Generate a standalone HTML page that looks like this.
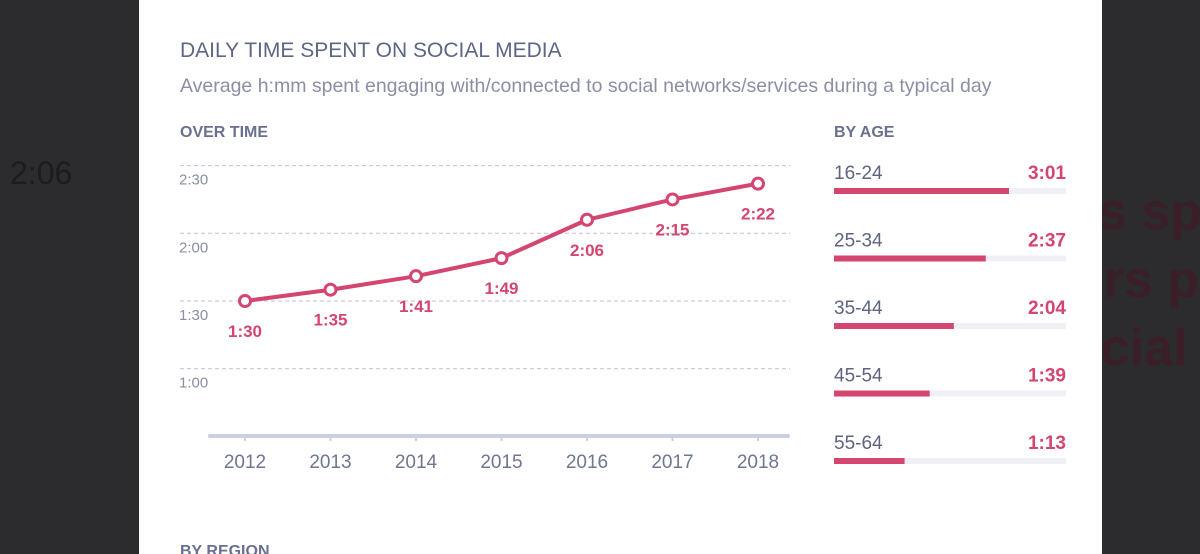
<!DOCTYPE html>
<html><head><meta charset="utf-8"><style>
html,body{margin:0;width:1200px;height:554px;overflow:hidden}
body{background:#2c2c2e;font-family:"Liberation Sans",sans-serif;position:relative}
.bgtxt{position:absolute;color:#1f1f21;font-weight:bold;white-space:nowrap}
#panel{position:absolute;left:139px;top:0;width:963px;height:554px;background:#fff}
.t{position:absolute;white-space:nowrap}
</style></head><body>
<div class="bgtxt" style="left:10px;top:155px;font-size:32px;color:#1c1c1e;font-weight:normal">2:06</div>
<div class="bgtxt" style="left:1040px;top:178px;font-size:52px;line-height:68px;color:#3a1e28">24s sp<br>ours p<br>social</div>
<div id="panel"></div>
<div class="t" style="left:180px;top:39px;font-size:21px;color:#5e6685">DAILY TIME SPENT ON SOCIAL MEDIA</div>
<div class="t" style="left:180px;top:75px;font-size:19.5px;color:#8a8fa3">Average h:mm spent engaging with/connected to social networks/services during a typical day</div>
<div class="t" style="left:180px;top:124px;font-size:16px;font-weight:bold;color:#6a7190">OVER TIME</div>
<div class="t" style="left:834px;top:124px;font-size:16px;font-weight:bold;color:#6a7190">BY AGE</div>
<svg id="chart" width="1200" height="554" style="position:absolute;left:0;top:0"></svg>
<script>
const years=["2012","2013","2014","2015","2016","2017","2018"];
const minutes=[90,95,101,109,126,135,142];
const valueLabels=["1:30","1:35","1:41","1:49","2:06","2:15","2:22"];
const yTicks=[60,90,120,150];
const yTickLabels=["1:00","1:30","2:00","2:30"];
const ages=["16-24","25-34","35-44","45-54","55-64"];
const ageMinutes=[181,157,124,99,73];
const ageLabels=["3:01","2:37","2:04","1:39","1:13"];

const NS="http://www.w3.org/2000/svg";
const svg=document.getElementById('chart');
const pink="#d4456f";
function x(i){return 245+i*85.5;}
function y(m){return 301-(m-90)*(67.7/30);}
function mk(tag,attrs,parent){const e=document.createElementNS(NS,tag);for(const k in attrs)e.setAttribute(k,attrs[k]);(parent||svg).appendChild(e);return e;}
yTicks.forEach((t,i)=>{
  const g=mk('line',{x1:180,x2:790,y1:y(t),y2:y(t),stroke:"#b9c3d6","stroke-width":1,"stroke-dasharray":"4 3"});
  
  
  const l=mk('text',{x:179,y:y(t)+19,"font-size":15,fill:"#8a8fa3","font-family":"Liberation Sans"});
  l.textContent=yTickLabels[i];
  
  
});
const ax=mk('line',{x1:210,x2:788,y1:436,y2:436,stroke:"#c9d0e3","stroke-width":4,"stroke-linecap":"round"});


years.forEach((yr,i)=>{
  mk('line',{x1:x(i),x2:x(i),y1:436,y2:441,stroke:"#c9d0e3","stroke-width":2});
  const l=mk('text',{x:x(i),y:468,"font-size":19,fill:"#6f7690","text-anchor":"middle","font-family":"Liberation Sans"});
  l.textContent=yr;
  
  
});
const pl=mk('polyline',{points:minutes.map((m,i)=>x(i)+","+y(m)).join(" "),fill:"none",stroke:pink,"stroke-width":4,"stroke-linejoin":"round"});


minutes.forEach((m,i)=>{
  const c=mk('circle',{cx:x(i),cy:y(m),r:5.5,fill:"#fff",stroke:pink,"stroke-width":3});
  
  
  const l=mk('text',{x:x(i),y:y(m)+36,"font-size":17,"font-weight":"bold",fill:pink,"text-anchor":"middle","font-family":"Liberation Sans"});
  l.textContent=valueLabels[i];
  
  
});
function bw(m){return m*232/240;}
ages.forEach((a,i)=>{
  const top=164+i*67.5;
  const n=mk('text',{x:834,y:top+15,"font-size":19,fill:"#5e6380","font-family":"Liberation Sans"});
  n.textContent=a;
  
  
  const v=mk('text',{x:1066,y:top+15,"font-size":19,"font-weight":"bold",fill:pink,"text-anchor":"end","font-family":"Liberation Sans"});
  v.textContent=ageLabels[i];
  
  
  const tr=mk('rect',{x:834,y:top+24,width:232,height:6,fill:"#eff0f5"});
  
  
  const b=mk('rect',{x:834,y:top+24,width:bw(ageMinutes[i]),height:6,fill:pink});
  
  
});
</script>
<div class="t" style="left:180px;top:544px;font-size:16px;line-height:16px;font-weight:bold;color:#6a7190">BY REGION</div>
</body></html>
